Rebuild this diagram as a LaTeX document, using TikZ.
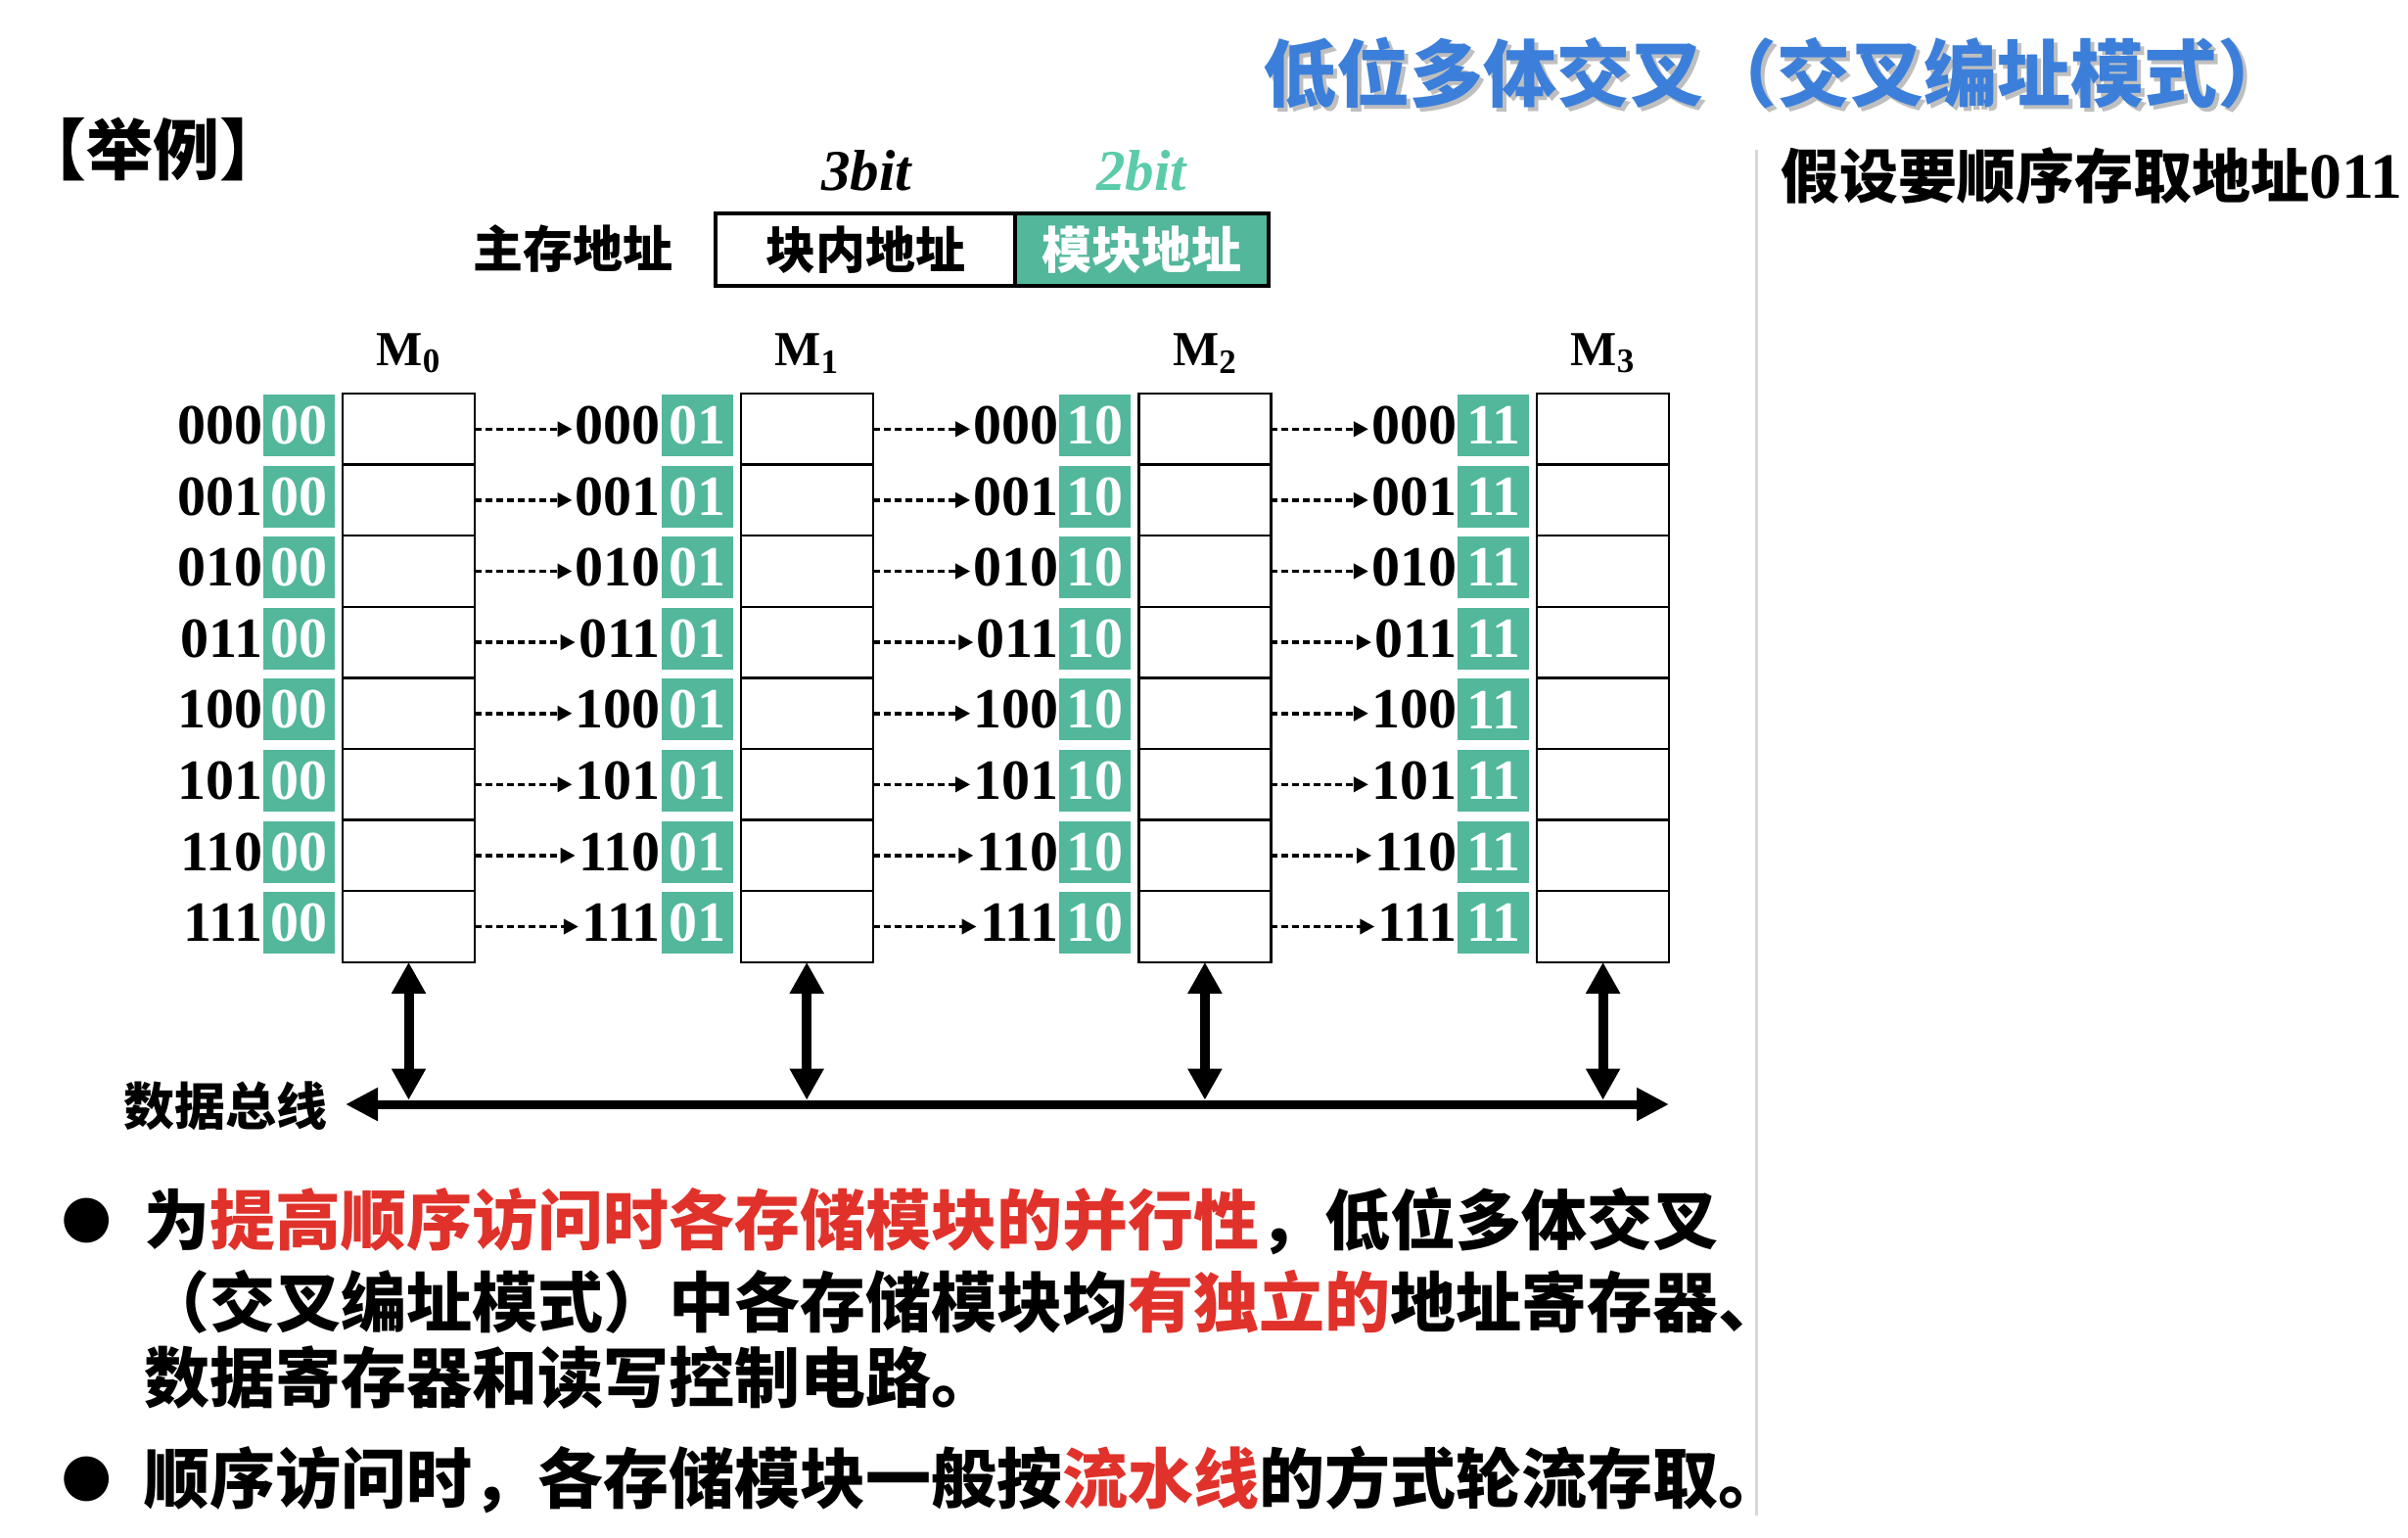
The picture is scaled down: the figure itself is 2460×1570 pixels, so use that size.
\documentclass[tikz,border=0pt]{standalone}
\usepackage{fontspec}
\usetikzlibrary{arrows.meta}
\setmainfont{Liberation Serif}
\newfontfamily\cjk{Noto Sans CJK SC}
\newfontfamily\dgt{Liberation Serif}
\newfontfamily\symf{DejaVu Sans}
\definecolor{tealc}{HTML}{52B79B}
\definecolor{teallt}{HTML}{5CCBA9}
\definecolor{hired}{HTML}{E0322B}
\definecolor{ttlblue}{HTML}{3C7FDA}
\definecolor{sepgray}{HTML}{D8D8D8}
\newcommand{\hl}[1]{\textcolor{hired}{#1}}
\begin{document}
\begin{tikzpicture}[x=0.5pt,y=-0.5pt,
  cell/.style={draw,line width=1.2pt,minimum width=67.5pt,minimum height=36.3pt,inner sep=0pt,outer sep=0pt},
  tealbox/.style={fill=tealc,text=white,minimum width=36.5pt,minimum height=31.5pt,inner sep=0pt,
    font=\dgt\bfseries\fontsize{29}{30}\selectfont},
  prebits/.style={anchor=east,inner sep=0pt,font=\dgt\bfseries\fontsize{29}{30}\selectfont},
  modlabel/.style={font=\dgt\bfseries\fontsize{25}{30}\selectfont,inner sep=0pt},
  addr/.style={draw,line width=2pt,inner sep=0pt,outer sep=0pt,minimum height=37pt,
    font=\cjk\bfseries\fontsize{25.5}{30}\selectfont},
  cjklabel/.style={font=\cjk\bfseries\fontsize{25.5}{30}\selectfont,inner sep=0pt},
  bitlabel/.style={font=\dgt\bfseries\itshape\fontsize{29.5}{30}\selectfont,inner sep=0pt},
  dasharrow/.style={line width=1.8pt,dash pattern=on 3.5pt off 2pt,-{Triangle[length=7.5pt,width=7.5pt]},shorten >=1.5pt},
  busline/.style={line width=4.5pt,{Triangle[length=16.5pt,width=16pt]}-{Triangle[length=16.5pt,width=16pt]}},
  vbus/.style={line width=5pt,{Triangle[length=16pt,width=16.5pt]}-{Triangle[length=16pt,width=16.5pt]},shorten >=2.2pt},
  bodytext/.style={anchor=west,inner sep=0pt,font=\cjk\bfseries\fontsize{33.5}{40}\selectfont},
  bulletdot/.style={inner sep=0pt,font=\symf\fontsize{30}{30}\selectfont}
]
\useasboundingbox[fill=white] (0,0) rectangle (2460,1570);
\clip (0,0) rectangle (2460,1570);

% heading with drop shadow
\node[anchor=west,inner sep=0pt,text=black!45,opacity=0.55,font=\cjk\bfseries\fontsize{37.5}{40}\selectfont]
  (titleshadow) at (1294,79) {低位多体交叉（交叉编址模式）};
\node[anchor=west,inner sep=0pt,text=ttlblue,font=\cjk\bfseries\fontsize{37.5}{40}\selectfont]
  (title) at (1290,75) {低位多体交叉（交叉编址模式）};

% example tag
\node[anchor=west,inner sep=0pt,font=\cjk\bfseries\fontsize{34}{36}\selectfont] (tag) at (20,152) {【举例】};

% address format
\node[addr,fill=white,minimum width=153pt] (blk) at (884,255) {块内地址};
\node[addr,fill=tealc,text=white,minimum width=129.5pt,anchor=west] (mod) at (blk.east) {模块地址};
\node[cjklabel] (mainaddr) at (585,254) {主存地址};
\node[bitlabel] (b3) at (885,174) {3bit};
\node[bitlabel,text=teallt] (b2) at (1166,174) {2bit};

% the four memory modules
\foreach \c/\bits in {0/00,1/01,2/10,3/11} {
  \pgfmathsetmacro\bx{350+406.7*\c}
  \node[modlabel] (M\c) at (\bx+67.5,361) {M\textsubscript{\c}};
  \foreach \pre [count=\i from 0] in {000,001,010,011,100,101,110,111} {
    \pgfmathsetmacro\ry{402+72.6*\i}
    \node[cell] (r-\c-\i) at (\bx+67.5,\ry+36.3) {};
    \node[tealbox] (t-\c-\i) at (\bx-44.5,\ry+32.5) {\bits};
    \node[prebits] (p-\c-\i) at (t-\c-\i.west) {\pre};
  }
}

% sequential address order between modules
\foreach \c in {0,1,2} {
  \pgfmathtruncatemacro\n{\c+1}
  \foreach \i in {0,...,7} {
    \draw[dasharrow] (r-\c-\i.east) -- (r-\c-\i.east -| p-\n-\i.west);
  }
}

% data bus
\coordinate (busL) at (353,1128);
\coordinate (busR) at (1705,1128);
\draw[busline] (busL) -- (busR);
\foreach \c in {0,1,2,3} {
  \draw[vbus] (r-\c-7.south) -- (r-\c-7.south |- busL);
}
\node[anchor=west,inner sep=0pt,font=\cjk\bfseries\fontsize{26}{30}\selectfont] (buslabel) at (126,1130) {数据总线};

% divider
\draw[sepgray,line width=1.5pt] (1794,153) -- (1794,1548);

% right column
\node[anchor=west,inner sep=0pt,font=\cjk\bfseries\fontsize{30}{32}\selectfont] (assume) at (1819,180)
  {假设要顺序存取地址{\dgt\bfseries\fontsize{33}{34}\selectfont 011}};

% notes
\node[bulletdot] (dot1) at (89,1247) {●};
\node[bodytext] (l1) at (147,1247) {为\hl{提高顺序访问时各存储模块的并行性}，低位多体交叉};
\node[bodytext] (l2) at (147,1330) {（交叉编址模式）中各存储模块均\hl{有独立的}地址寄存器、};
\node[bodytext] (l3) at (147,1407) {数据寄存器和读写控制电路。};
\node[bulletdot] (dot2) at (89,1511) {●};
\node[bodytext] (l4) at (147,1511) {顺序访问时，各存储模块一般按\hl{流水线}的方式轮流存取。};
\end{tikzpicture}
\end{document}
